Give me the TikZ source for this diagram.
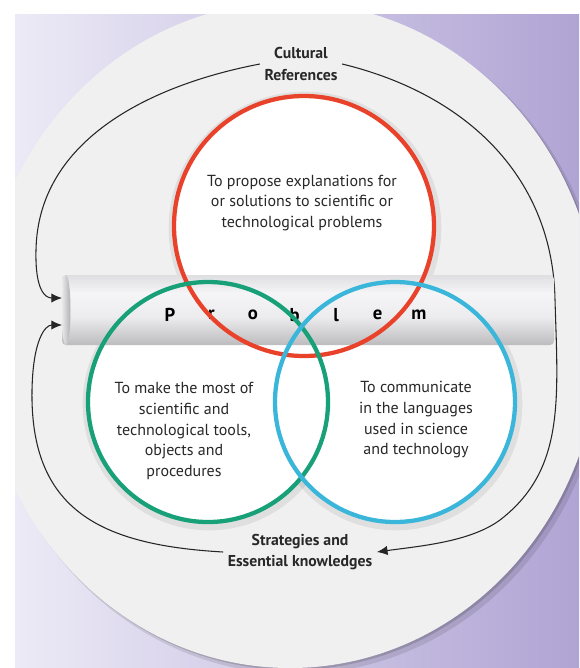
\documentclass[tikz,border=0pt]{standalone}
\usepackage{fontspec}
\setmainfont{PT Sans}
\usetikzlibrary{arrows.meta}
\definecolor{lavL}{RGB}{236,234,246}
\definecolor{lavR}{RGB}{176,164,212}
\definecolor{discgray}{RGB}{240,240,240}
\definecolor{propred}{RGB}{232,66,42}
\definecolor{toolgreen}{RGB}{24,160,120}
\definecolor{commblue}{RGB}{58,182,218}
\definecolor{txtgray}{RGB}{40,40,40}
\definecolor{cylB}{RGB}{122,122,124}
\definecolor{cylM}{RGB}{176,176,179}
\definecolor{cylL}{RGB}{236,236,238}
\definecolor{cylW}{RGB}{245,245,247}
\definecolor{cylM2}{RGB}{204,204,206}
\definecolor{cylD}{RGB}{160,160,162}
\pgfdeclareverticalshading{cylshade}{100bp}{color(0bp)=(cylB); color(20bp)=(cylM);
	color(45bp)=(cylL); color(62bp)=(cylW); color(86bp)=(cylM2); color(100bp)=(cylD)}

\begin{document}
\begin{tikzpicture}[x=0.75pt, y=-0.75pt,
	ring/.style={circle, line width=3.2pt, inner sep=0pt},
	halo/.style={black, opacity=0.07, line width=8pt},
	bodytext/.style={align=center, text=txtgray, font=\fontsize{12}{15.5}\selectfont},
	looptext/.style={align=center, text=txtgray, font=\bfseries\fontsize{11.8}{16}\selectfont},
	loopline/.style={draw=black!85, line width=0.8pt},
	cylbody/.style={rectangle, rounded corners=3pt, minimum width=369pt, minimum height=52.5pt,
		shade, shading=cylshade},
	probletter/.style={text=black, font=\bfseries\fontsize{14}{14}\selectfont}]

	\useasboundingbox (0,0) rectangle (579,668);
	\fill[white] (0,0) rectangle (579,668);
	\shade[left color=lavL, right color=lavR] (15,14) rectangle (579,668);

	% big disc
	\begin{scope}
		\clip (15,14) rectangle (579,668);
		\fill[black, opacity=0.10] (295,340) ellipse [x radius=311, y radius=334];
		\fill[black, opacity=0.15] (292,337) ellipse [x radius=310, y radius=333];
		\fill[discgray] (290,335) ellipse [x radius=310, y radius=333];
	\end{scope}

	\node[looptext] (cult) at (301,64) {Cultural\\References};
	\node[looptext] (strat) at (300,552) {Strategies and\\Essential knowledges};
	\coordinate (inA) at (62,298);
	\coordinate (inB) at (62,325);

	% loops
	\draw[loopline, -{Latex[length=8pt,width=7pt]}] (cult.west) .. controls (150,85) and (38,140) .. (36,250)
		.. controls (35,290) and (45,298) .. (inA);
	\draw[loopline, -{Latex[length=8pt,width=7pt]}] (cult.east) .. controls (470,95) and (553,180) .. (555,300)
		.. controls (558,400) and (565,470) .. (500,520) .. controls (470,542) and (420,546) .. (strat.east);
	\draw[loopline, -{Latex[length=8pt,width=7pt]}] (strat.west) .. controls (100,545) and (30,510) .. (32,390)
		.. controls (33,340) and (45,325) .. (inB);

	% circle fills
	\draw[halo] (305,228) circle [radius=131];
	\draw[halo] (209,404) circle [radius=121];
	\draw[halo] (396,404) circle [radius=121];
	\fill[white] (304,226) circle [radius=130];
	\fill[white] (208,402) circle [radius=120];
	\fill[white] (395,402) circle [radius=120];

	% problem bar
	\node[cylbody] (prob) at (308,310) {};
	\shade[left color=cylL, right color=cylM] (66,310) ellipse [x radius=4.5, y radius=35];
	\foreach \ch [count=\i from 0] in {P,r,o,b,l,e,m}
		\node[probletter] (l\i) at ({170+41.5*\i},315) {\ch};

	\node[ring, draw=propred, minimum size=195pt] (propose) at (304,226) {};
	\node[ring, draw=toolgreen, minimum size=180pt] (tools) at (208,402) {};
	\node[ring, draw=commblue, minimum size=180pt] (comm) at (395,402) {};

	\node[bodytext] (proptext) at (302,203) {To propose explanations for\\or solutions to scientific or\\technological problems};
	\node[bodytext] (tooltext) at (184,431) {To make the most of\\scientific and\\technological tools,\\objects and\\procedures};
	\node[bodytext] (commtext) at (416,420) {To communicate\\in the languages\\used in science\\and technology};
\end{tikzpicture}
\end{document}
